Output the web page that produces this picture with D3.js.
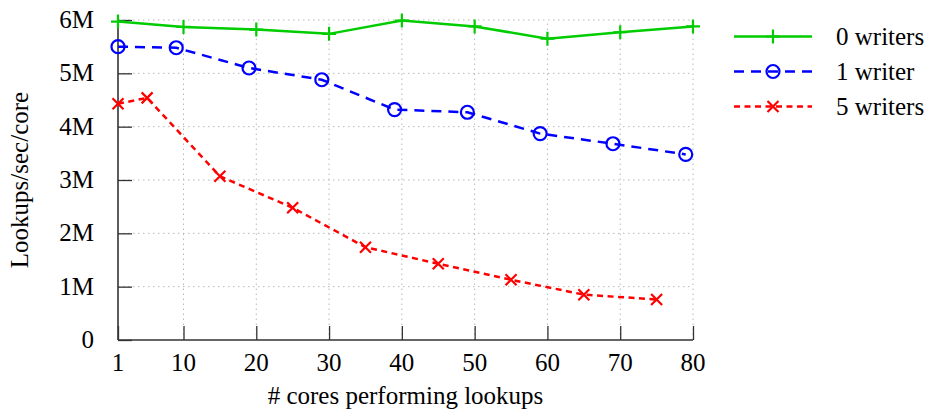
<!DOCTYPE html>
<html>
<head>
<meta charset="utf-8">
<script src="https://cdn.jsdelivr.net/npm/d3@7"></script>
<style>
  body { margin: 0; background: #fff; }
  svg { display: block; font-family: "Liberation Serif", "DejaVu Serif", serif; }
</style>
</head>
<body>
<div id="chart"></div>
<script>
// series data (lookups/sec/core, in millions)
const xTicks = [1, 10, 20, 30, 40, 50, 60, 70, 80]
const yTicks = [0, 1, 2, 3, 4, 5, 6]

const cores0 = [1, 10, 20, 30, 40, 50, 60, 70, 80]
const writers0 = [5.97, 5.87, 5.82, 5.74, 5.99, 5.88, 5.65, 5.77, 5.88]

const cores1 = [1, 9, 19, 29, 39, 49, 59, 69, 79]
const writers1 = [5.50, 5.48, 5.10, 4.88, 4.32, 4.27, 3.87, 3.68, 3.48]

const cores5 = [1, 5, 15, 25, 35, 45, 55, 65, 75]
const writers5 = [4.43, 4.54, 3.07, 2.48, 1.74, 1.43, 1.13, 0.85, 0.76]

const seriesNames = ["0 writers", "1 writer", "5 writers"]

const width = 932, height = 413
const margin = {left: 118, right: 239, top: 20, bottom: 73}
const fontSize = "25px"

const svg = d3.select("#chart").append("svg")
    .attr("width", width)
    .attr("height", height)

const x = d3.scaleLinear().domain([1, 80]).range([margin.left, width - margin.right])
const y = d3.scaleLinear().domain([0, 6]).range([height - margin.bottom, margin.top])

// dotted grid
svg.append("g")
    .selectAll("line")
    .data(yTicks.slice(1))
    .join("line")
        .attr("x1", x(1)).attr("x2", x(80))
        .attr("y1", d => y(d)).attr("y2", d => y(d))
        .attr("stroke", "#b8b8b8").attr("stroke-width", 1)
        .attr("stroke-dasharray", "1.5,3.5")

svg.append("g")
    .selectAll("line")
    .data(xTicks.slice(1))
    .join("line")
        .attr("x1", d => x(d)).attr("x2", d => x(d))
        .attr("y1", y(0)).attr("y2", y(6))
        .attr("stroke", "#b8b8b8").attr("stroke-width", 1)
        .attr("stroke-dasharray", "1.5,3.5")

// axes with inward ticks
const xAxis = svg.append("g")
    .attr("transform", `translate(0,${y(0)})`)
    .call(d3.axisTop(x).tickValues(xTicks).tickSize(14).tickFormat(""))
xAxis.select(".domain").remove()
xAxis.selectAll(".tick line").attr("stroke", "#333").attr("stroke-width", 1.3)

const yAxis = svg.append("g")
    .attr("transform", `translate(${x(1)},0)`)
    .call(d3.axisRight(y).tickValues(yTicks).tickSize(14).tickFormat(""))
yAxis.select(".domain").remove()
yAxis.selectAll(".tick line").attr("stroke", "#333").attr("stroke-width", 1.3)

svg.append("line")
    .attr("x1", x(1)).attr("x2", x(80))
    .attr("y1", y(0)).attr("y2", y(0))
    .attr("stroke", "#333").attr("stroke-width", 1.6)
svg.append("line")
    .attr("x1", x(1)).attr("x2", x(1))
    .attr("y1", y(0)).attr("y2", y(6))
    .attr("stroke", "#333").attr("stroke-width", 1.6)

// tick labels
svg.append("g")
    .selectAll("text")
    .data(xTicks)
    .join("text")
        .attr("x", d => x(d))
        .attr("y", y(0) + 31)
        .attr("text-anchor", "middle")
        .style("font-size", fontSize)
        .text(d => d)

svg.append("g")
    .selectAll("text")
    .data(yTicks)
    .join("text")
        .attr("x", x(1) - 24)
        .attr("y", d => y(d) + 8)
        .attr("text-anchor", "end")
        .style("font-size", fontSize)
        .text(d => d === 0 ? "0" : d + "M")

// axis titles
svg.append("text")
    .attr("x", (x(1) + x(80)) / 2)
    .attr("y", 404)
    .attr("text-anchor", "middle")
    .style("font-size", fontSize)
    .text("# cores performing lookups")

svg.append("text")
    .attr("transform", `translate(28,${(y(0) + y(6)) / 2}) rotate(-90)`)
    .attr("text-anchor", "middle")
    .style("font-size", fontSize)
    .text("Lookups/sec/core")

// series
const series = [
    {name: seriesNames[0], xs: cores0, ys: writers0, color: "#00cc00", dash: null, marker: "plus"},
    {name: seriesNames[1], xs: cores1, ys: writers1, color: "#0000ff", dash: "10,7", marker: "circle"},
    {name: seriesNames[2], xs: cores5, ys: writers5, color: "#ff0000", dash: "6,4.5", marker: "cross"}
]

const line = d3.line().x(d => x(d[0])).y(d => y(d[1]))

function drawMarker(g, type, color) {
    if (type === "plus") {
        g.append("path").attr("d", "M-7,0H7M0,-7V7")
            .attr("stroke", color).attr("stroke-width", 2.2).attr("fill", "none")
    } else if (type === "circle") {
        g.append("circle").attr("r", 6.5)
            .attr("stroke", color).attr("stroke-width", 2.2).attr("fill", "none")
    } else {
        g.append("path").attr("d", "M-5.5,-5.5L5.5,5.5M-5.5,5.5L5.5,-5.5")
            .attr("stroke", color).attr("stroke-width", 2.2).attr("fill", "none")
    }
}

series.forEach(s => {
    const pts = s.xs.map((d, i) => [d, s.ys[i]])
    svg.append("path")
        .datum(pts)
        .attr("d", line)
        .attr("fill", "none")
        .attr("stroke", s.color)
        .attr("stroke-width", 2.5)
        .attr("stroke-dasharray", s.dash)

    svg.append("g")
        .selectAll("g")
        .data(pts)
        .join("g")
            .attr("transform", d => `translate(${x(d[0])},${y(d[1])})`)
            .each(function() { drawMarker(d3.select(this), s.marker, s.color) })
})

// legend
const legend = svg.append("g")
    .selectAll("g")
    .data(series)
    .join("g")
        .attr("transform", (d, i) => `translate(734,${36.5 + i * 35})`)

legend.append("line")
    .attr("x1", 0).attr("x2", 78)
    .attr("stroke", d => d.color)
    .attr("stroke-width", 2.5)
    .attr("stroke-dasharray", d => d.dash)

legend.each(function(d) {
    const g = d3.select(this).append("g").attr("transform", "translate(39,0)")
    drawMarker(g, d.marker, d.color)
})

legend.append("text")
    .attr("x", 102)
    .attr("y", 8)
    .style("font-size", fontSize)
    .text(d => d.name)
</script>
</body>
</html>
